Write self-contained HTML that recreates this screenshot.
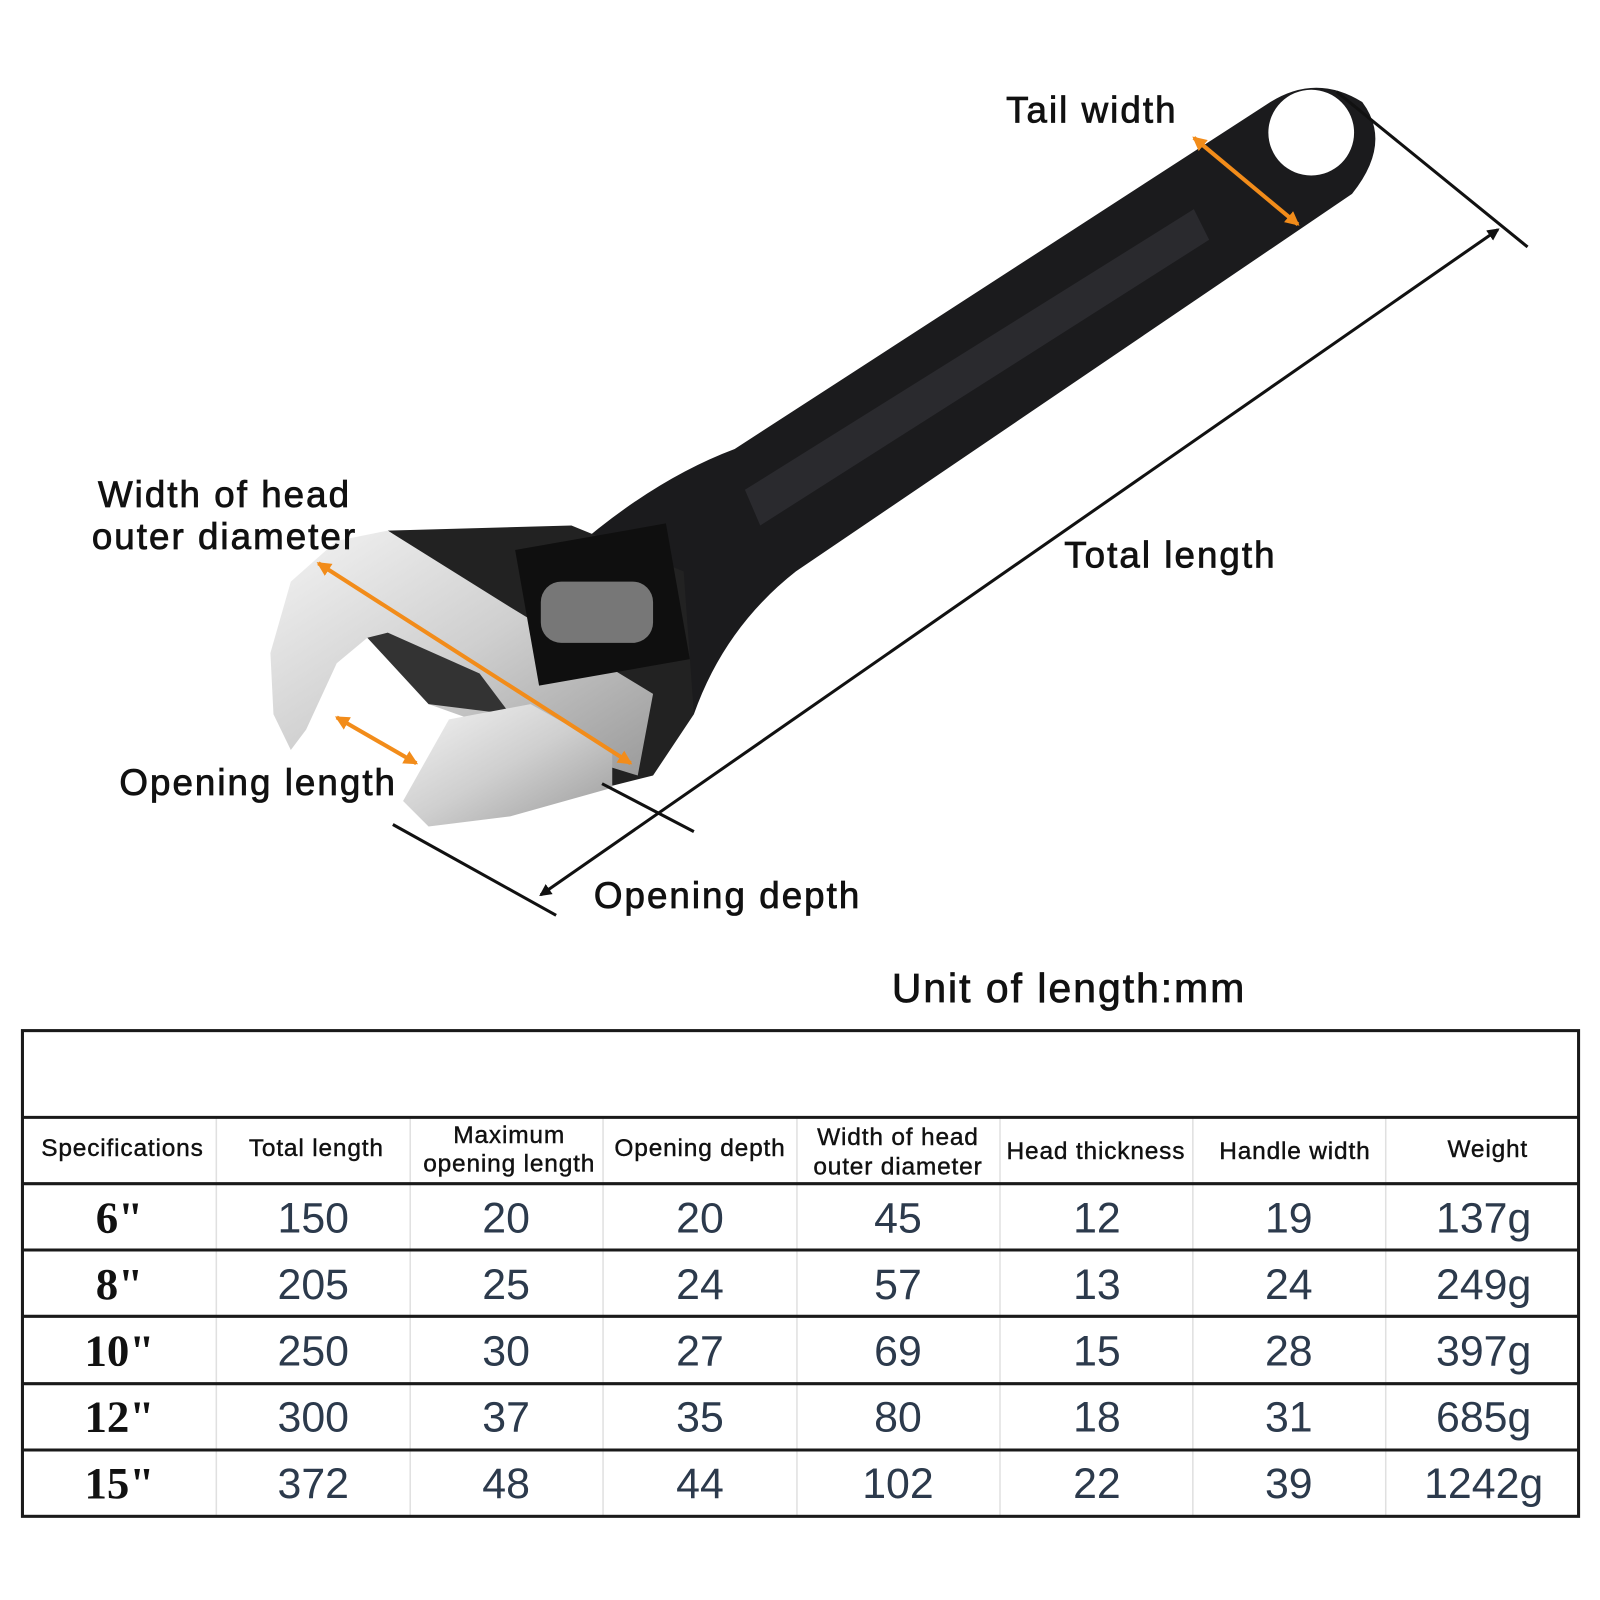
<!DOCTYPE html>
<html><head><style>html,body{margin:0;padding:0;background:#fff}svg{display:block}</style></head>
<body>
<svg width="1600" height="1600" viewBox="0 0 1568 1568" xmlns="http://www.w3.org/2000/svg" font-family="Liberation Sans, sans-serif">
<defs>
<linearGradient id="silv" x1="0" y1="0" x2="1" y2="1"><stop offset="0" stop-color="#f4f4f4"/><stop offset="0.5" stop-color="#cfcfcf"/><stop offset="1" stop-color="#9a9a9a"/></linearGradient>
<marker id="ab" markerWidth="12" markerHeight="12" refX="10" refY="6" orient="auto-start-reverse" markerUnits="userSpaceOnUse"><path d="M0,0 L12,6 L0,12 Z" fill="#111"/></marker>
<marker id="ao" markerWidth="14" markerHeight="14" refX="12" refY="7" orient="auto-start-reverse" markerUnits="userSpaceOnUse"><path d="M0,0 L14,7 L0,14 Z" fill="#f28c1a"/></marker>
</defs>
<!-- handle -->
<path d="M720,440 L1245,100 Q1290,72 1335,100 Q1365,140 1325,190 L780,560 Q710,615 680,700 L560,660 L560,540 Q640,470 720,440 Z" fill="#1b1b1d"/>
<circle cx="1285" cy="130" r="42" fill="#fff"/>
<path d="M730,480 L1170,205 L1185,235 L745,515 Z" fill="#2a2a2e"/>
<!-- head black -->
<path d="M380,520 L560,515 L670,560 L680,700 L640,760 L600,770 L590,700 L500,600 Z" fill="#222"/>
<!-- fixed jaw -->
<path d="M380,520 L500,595 L640,680 L625,760 L560,740 L420,690 L360,625 L330,650 L300,715 L285,735 L268,700 L265,640 L285,570 L330,530 Z" fill="url(#silv)"/>
<path d="M360,625 L420,690 L500,700 L470,660 L380,620 Z" fill="#333"/>
<!-- movable jaw -->
<path d="M395,785 L440,705 L520,690 L600,735 L600,772 L500,800 L420,810 Z" fill="url(#silv)"/>
<!-- worm window -->
<rect x="515" y="525" width="150" height="135" fill="#0f0f0f" transform="rotate(-10 590 590)"/>
<rect x="530" y="570" width="110" height="60" rx="20" fill="#777"/>
<!-- black dimension lines -->
<line x1="530" y1="877" x2="1468" y2="225" stroke="#111" stroke-width="3" marker-start="url(#ab)" marker-end="url(#ab)"/>
<line x1="1310" y1="90" x2="1497" y2="242" stroke="#111" stroke-width="3"/>
<line x1="385" y1="808" x2="545" y2="897" stroke="#111" stroke-width="3"/>
<line x1="590" y1="768" x2="680" y2="815" stroke="#111" stroke-width="3"/>
<!-- orange -->
<line x1="1170" y1="135" x2="1272" y2="220" stroke="#f28c1a" stroke-width="4" marker-start="url(#ao)" marker-end="url(#ao)"/>
<line x1="312" y1="552" x2="618" y2="748" stroke="#f28c1a" stroke-width="4" marker-start="url(#ao)" marker-end="url(#ao)"/>
<line x1="330" y1="703" x2="408" y2="748" stroke="#f28c1a" stroke-width="4" marker-start="url(#ao)" marker-end="url(#ao)"/>
<!-- labels -->
<g font-size="36" fill="#111" stroke="#111" stroke-width="0.8" letter-spacing="2">
<text x="986" y="120">Tail width</text>
<text x="96" y="497">Width of head</text>
<text x="90" y="538">outer diameter</text>
<text x="1043" y="556">Total length</text>
<text x="117" y="779">Opening length</text>
<text x="582" y="890">Opening depth</text>
<text x="874" y="982" font-size="40">Unit of length:mm</text>
</g>
<!-- table -->
<g stroke="#e0e0e0" stroke-width="1.5">
<line x1="212" y1="1095" x2="212" y2="1486"/><line x1="402" y1="1095" x2="402" y2="1486"/><line x1="591" y1="1095" x2="591" y2="1486"/><line x1="781" y1="1095" x2="781" y2="1486"/><line x1="980" y1="1095" x2="980" y2="1486"/><line x1="1169" y1="1095" x2="1169" y2="1486"/><line x1="1358" y1="1095" x2="1358" y2="1486"/>
</g>
<g stroke="#1a1a1a" stroke-width="3" fill="none">
<rect x="22" y="1010" width="1525" height="476"/>
<line x1="22" y1="1095" x2="1547" y2="1095"/><line x1="22" y1="1160" x2="1547" y2="1160"/><line x1="22" y1="1225" x2="1547" y2="1225"/><line x1="22" y1="1290" x2="1547" y2="1290"/><line x1="22" y1="1356" x2="1547" y2="1356"/><line x1="22" y1="1421" x2="1547" y2="1421"/>
</g>
<g font-size="24" fill="#111" stroke="#111" stroke-width="0.4" text-anchor="middle" letter-spacing="0.8">
<text x="120" y="1133">Specifications</text>
<text x="310" y="1133">Total length</text>
<text x="499" y="1120">Maximum</text><text x="499" y="1148">opening length</text>
<text x="686" y="1133">Opening depth</text>
<text x="880" y="1122">Width of head</text><text x="880" y="1151">outer diameter</text>
<text x="1074" y="1136">Head thickness</text>
<text x="1269" y="1136">Handle width</text>
<text x="1458" y="1134">Weight</text>
</g>
<g font-size="44" font-weight="bold" font-family="Liberation Serif, serif" fill="#111" text-anchor="middle">
<text x="117" y="1208">6"</text><text x="117" y="1273">8"</text><text x="117" y="1338">10"</text><text x="117" y="1403">12"</text><text x="117" y="1468">15"</text>
</g>
<g font-size="42" fill="#2c3a4c" text-anchor="middle">
<text x="307" y="1208">150</text><text x="496" y="1208">20</text><text x="686" y="1208">20</text><text x="880" y="1208">45</text><text x="1075" y="1208">12</text><text x="1263" y="1208">19</text><text x="1454" y="1208">137g</text>
<text x="307" y="1273">205</text><text x="496" y="1273">25</text><text x="686" y="1273">24</text><text x="880" y="1273">57</text><text x="1075" y="1273">13</text><text x="1263" y="1273">24</text><text x="1454" y="1273">249g</text>
<text x="307" y="1338">250</text><text x="496" y="1338">30</text><text x="686" y="1338">27</text><text x="880" y="1338">69</text><text x="1075" y="1338">15</text><text x="1263" y="1338">28</text><text x="1454" y="1338">397g</text>
<text x="307" y="1403">300</text><text x="496" y="1403">37</text><text x="686" y="1403">35</text><text x="880" y="1403">80</text><text x="1075" y="1403">18</text><text x="1263" y="1403">31</text><text x="1454" y="1403">685g</text>
<text x="307" y="1468">372</text><text x="496" y="1468">48</text><text x="686" y="1468">44</text><text x="880" y="1468">102</text><text x="1075" y="1468">22</text><text x="1263" y="1468">39</text><text x="1454" y="1468">1242g</text>
</g>
</svg>
</body></html>
